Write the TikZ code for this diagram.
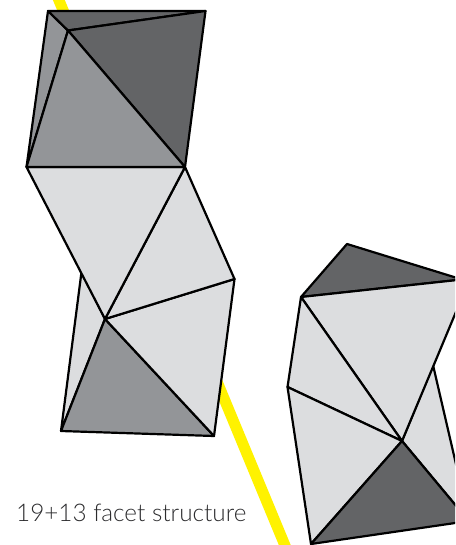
\documentclass[tikz,border=0pt]{standalone}
\usepackage{fontspec}
\setmainfont{Lato Light}
\definecolor{lightfacet}{HTML}{DCDDDF}
\definecolor{midfacet}{HTML}{939598}
\definecolor{darkfacet}{HTML}{636466}
\definecolor{axisyellow}{HTML}{FFF200}
\definecolor{labeltext}{HTML}{2B2B2D}
\tikzset{
  facet/.style={draw=black,line width=2.2pt,line join=round},
  lightf/.style={facet,fill=lightfacet},
  midf/.style={facet,fill=midfacet},
  darkf/.style={facet,fill=darkfacet}
}
\begin{document}
\begin{tikzpicture}[x=1pt,y=-1pt]
\useasboundingbox (0,0) rectangle (455,545);
\clip (0,0) rectangle (455,545);
% axis
\coordinate (ya) at (58,-2);
\coordinate (yb) at (286,548);
\draw[axisyellow,line width=11pt] (ya) -- (yb);
% left cluster vertices
\coordinate (A) at (48,11);
\coordinate (B) at (205.5,11);
\coordinate (C) at (68,30.5);
\coordinate (D) at (185,167);
\coordinate (E) at (26.5,167);
\coordinate (F) at (234.5,279);
\coordinate (G) at (105,319);
\coordinate (H) at (81.5,272);
\coordinate (I) at (61,431);
\coordinate (J) at (214,436);
% left lower
\filldraw[lightf] (H) -- (G) -- (I) -- cycle;
\filldraw[midf] (G) -- (J) -- (I) -- cycle;
\filldraw[lightf] (G) -- (F) -- (J) -- cycle;
\filldraw[lightf] (D) -- (F) -- (G) -- cycle;
\filldraw[lightf] (E) -- (D) -- (G) -- cycle;
% left upper
\filldraw[midf] (A) -- (C) -- (E) -- cycle;
\filldraw[darkf] (A) -- (B) -- (C) -- cycle;
\filldraw[darkf] (C) -- (B) -- (D) -- cycle;
\filldraw[midf] (E) -- (C) -- (D) -- cycle;
% right cluster vertices
\coordinate (P) at (347,244);
\coordinate (Q) at (301,297);
\coordinate (R) at (287.5,387);
\coordinate (S) at (402,441);
\coordinate (T) at (311,544);
\coordinate (U) at (462,279.5);
\coordinate (U2) at (462,297.5);
\coordinate (V) at (433,365);
\coordinate (W) at (462,490);
\coordinate (X) at (462,513);
\coordinate (Y) at (462,522);
\filldraw[lightf] (V) -- (W) -- (X) -- (S) -- cycle;
\filldraw[darkf] (Q) -- (P) -- (U) -- cycle;
\filldraw[lightf] (Q) -- (U) -- (U2) -- (S) -- cycle;
\filldraw[lightf] (Q) -- (S) -- (R) -- cycle;
\filldraw[lightf] (R) -- (S) -- (T) -- cycle;
\filldraw[darkf] (S) -- (X) -- (Y) -- (T) -- cycle;
\node[anchor=base west,inner sep=0pt,text=labeltext,font=\fontsize{24.3}{28}\selectfont] (lbl) at (16,521.5) {19+13 facet structure};
\end{tikzpicture}
\end{document}
